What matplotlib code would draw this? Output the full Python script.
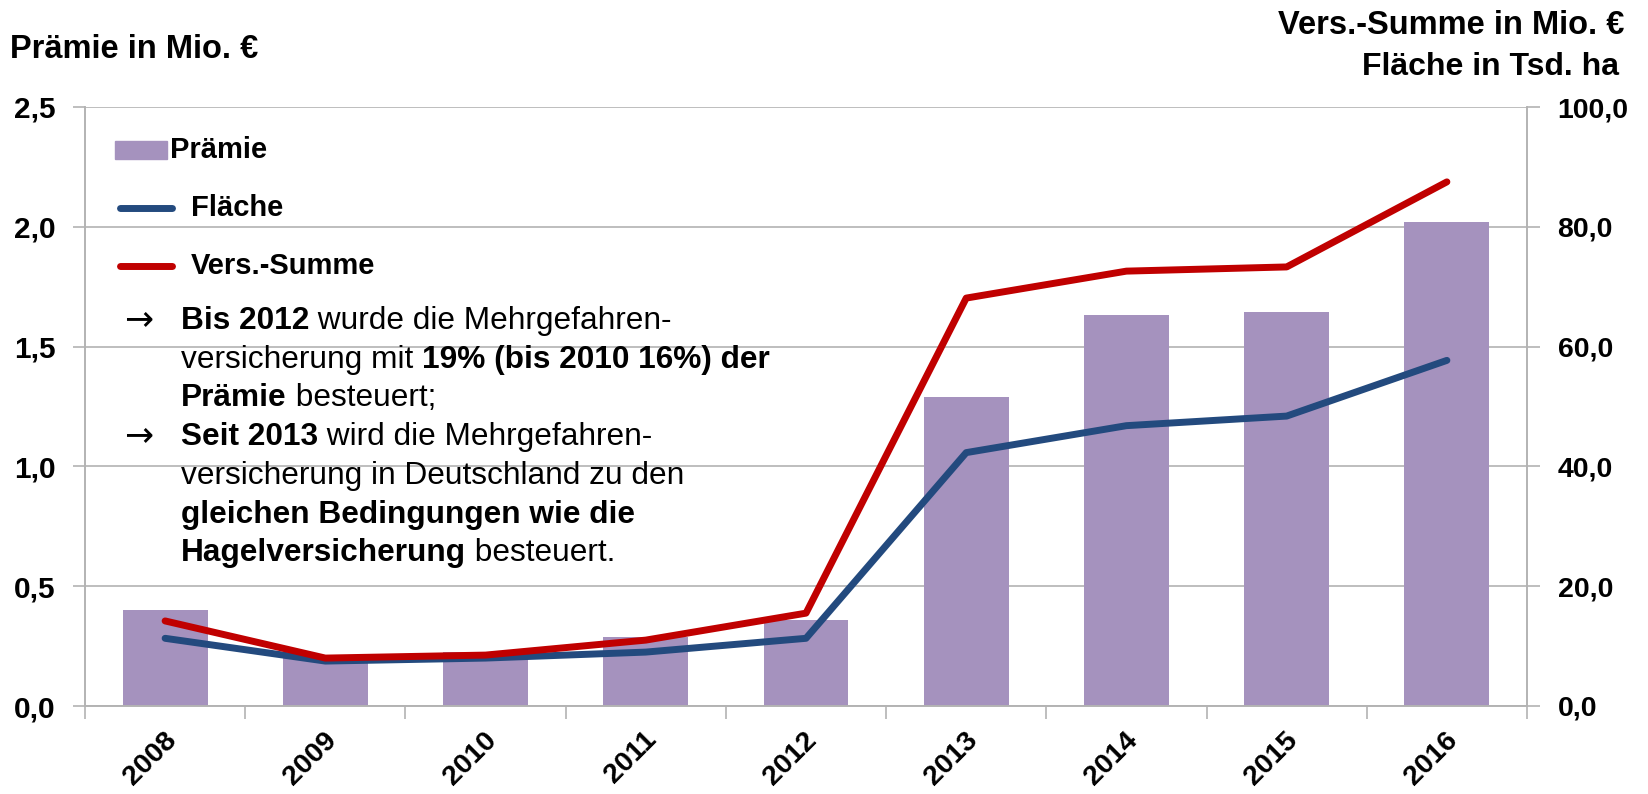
import matplotlib
matplotlib.use('Agg')
import matplotlib.pyplot as plt
from matplotlib.transforms import ScaledTranslation
from matplotlib.patches import Rectangle
from matplotlib.lines import Line2D

# ---------------- data ----------------
years = ['2008', '2009', '2010', '2011', '2012', '2013', '2014', '2015', '2016']
praemie = [0.40, 0.20, 0.225, 0.29, 0.36, 1.29, 1.63, 1.645, 2.02]      # Mio. €
flaeche = [11.3, 7.5, 8.0, 9.0, 11.3, 42.3, 46.8, 48.4, 57.7]          # Tsd. ha
vers_summe = [14.2, 8.0, 8.5, 11.0, 15.5, 68.1, 72.6, 73.3, 87.5]      # Mio. €
left_ticks = [0.0, 0.5, 1.0, 1.5, 2.0, 2.5]
right_ticks = [0, 20, 40, 60, 80, 100]

FONT = ['Liberation Sans', 'DejaVu Sans']
plt.rcParams['font.family'] = FONT

BAR_C = '#A592BE'
BLUE = '#234A7E'
RED = '#C00000'
GRID = '#B3B3B3'
LW = 5

W, H, DPI = 1648, 794, 100
fig = plt.figure(figsize=(W / DPI, H / DPI), dpi=DPI)
L, R, T, B = 85, 1527, 107, 706
ax = fig.add_axes([L / W, 1 - B / H, (R - L) / W, (B - T) / H])

x = list(range(len(years)))
ax.bar(x, praemie, width=0.53, color=BAR_C, zorder=2)
ax.set_xlim(-0.5, len(years) - 0.5)
ax.set_ylim(0, 2.5)
ax.set_yticks(left_ticks)
ax.set_yticklabels([f'{v:.1f}'.replace('.', ',') for v in left_ticks])
ax.yaxis.grid(True, color=GRID, lw=1.2, zorder=0)
ax.set_axisbelow(True)

ax.set_xticks(x)
ax.set_xticks([i - 0.5 for i in range(len(years) + 1)], minor=True)
ax.set_xticklabels(years, rotation=45, ha='right', va='top', rotation_mode='anchor',
                   fontsize=20.5, fontweight='bold')
ax.tick_params(axis='x', which='major', length=0, pad=15)
ax.tick_params(axis='x', which='minor', length=9, width=1.2, color=GRID, direction='out')
ax.tick_params(axis='y', length=9, width=1.2, color=GRID, direction='out', pad=12,
               labelsize=21.5)
for lab in ax.get_yticklabels():
    lab.set_fontweight('bold')
for lab in ax.get_xticklabels():
    lab.set_transform(lab.get_transform() + ScaledTranslation(-2 / DPI, 0, fig.dpi_scale_trans))

for s in ['left', 'right', 'bottom']:
    ax.spines[s].set_color(GRID)
    ax.spines[s].set_linewidth(1.2)
ax.spines['top'].set_visible(False)

ax2 = ax.twinx()
ax2.plot(x, flaeche, color=BLUE, lw=LW, solid_capstyle='round', solid_joinstyle='round', zorder=3)
ax2.plot(x, vers_summe, color=RED, lw=LW, solid_capstyle='round', solid_joinstyle='round', zorder=4)
ax2.set_ylim(0, 100)
ax2.set_yticks(right_ticks)
ax2.set_yticklabels([f'{v:.1f}'.replace('.', ',') for v in right_ticks])
ax2.tick_params(axis='y', length=9, width=1.2, color=GRID, direction='out', pad=13,
                labelsize=20.5)
for lab in ax2.get_yticklabels():
    lab.set_fontweight('bold')
for s in ['left', 'right', 'bottom']:
    ax2.spines[s].set_color(GRID)
    ax2.spines[s].set_linewidth(1.2)
ax2.spines['top'].set_visible(False)

# ---------------- legend (manual) ----------------
tr = ax2.transAxes
ax2.add_patch(Rectangle((0.021, 0.914), 0.036, 0.030, transform=tr, color=BAR_C,
                        clip_on=False, zorder=5))
ax2.text(0.059, 0.928, 'Prämie', transform=tr, fontsize=21, fontweight='bold',
         va='center', ha='left')
ax2.add_line(Line2D([0.024, 0.060], [0.831, 0.831], transform=tr, color=BLUE, lw=LW,
                    solid_capstyle='round'))
ax2.text(0.0735, 0.831, 'Fläche', transform=tr, fontsize=21, fontweight='bold',
         va='center', ha='left')
ax2.add_line(Line2D([0.024, 0.060], [0.735, 0.735], transform=tr, color=RED, lw=LW,
                    solid_capstyle='round'))
ax2.text(0.0735, 0.735, 'Vers.-Summe', transform=tr, fontsize=21, fontweight='bold',
         va='center', ha='left')

# ---------------- axis titles ----------------
fig.text(10 / W, 1 - 50 / H, 'Prämie in Mio. €', fontsize=23.5, fontweight='bold',
         ha='left', va='center')
fig.text(1624 / W, 1 - 25 / H, 'Vers.-Summe in Mio. €', fontsize=23.5, fontweight='bold',
         ha='right', va='center')
fig.text(1619 / W, 1 - 67 / H, 'Fläche in Tsd. ha', fontsize=23, fontweight='bold',
         ha='right', va='center')

# ---------------- annotation text ----------------
renderer = fig.canvas.get_renderer()
TXT_SIZE = 22.8


def rich_line(xf, yf, segments):
    off = 0.0
    for txt, bold in segments:
        t = ax2.text(xf, yf, txt, fontsize=TXT_SIZE,
                     fontweight='bold' if bold else 'normal', ha='left', va='baseline',
                     transform=ax2.transAxes + ScaledTranslation(off / DPI, 0, fig.dpi_scale_trans),
                     zorder=6)
        off += t.get_window_extent(renderer).width


x_arrow = (124 - L) / (R - L)
x_txt = (181 - L) / (R - L)
y0 = 1 - (329 - T) / (B - T)
dy = 38.7 / (B - T)

lines = [
    [('Bis 2012', True), (' wurde die Mehrgefahren-', False)],
    [('versicherung mit ', False), ('19% (bis 2010 16%) der', True)],
    [('Prämie', True), (' besteuert;', False)],
    [('Seit 2013', True), (' wird die Mehrgefahren-', False)],
    [('versicherung in Deutschland zu den', False)],
    [('gleichen Bedingungen wie die', True)],
    [('Hagelversicherung', True), (' besteuert.', False)],
]
arrows = {0, 3}
for i, segs in enumerate(lines):
    yy = y0 - i * dy
    if i in arrows:
        ax2.text(x_arrow, yy, '→', fontsize=25, family='DejaVu Sans', ha='left',
                 va='baseline', transform=ax2.transAxes, zorder=6)
    rich_line(x_txt, yy, segs)

fig.savefig('out.png', dpi=DPI)
